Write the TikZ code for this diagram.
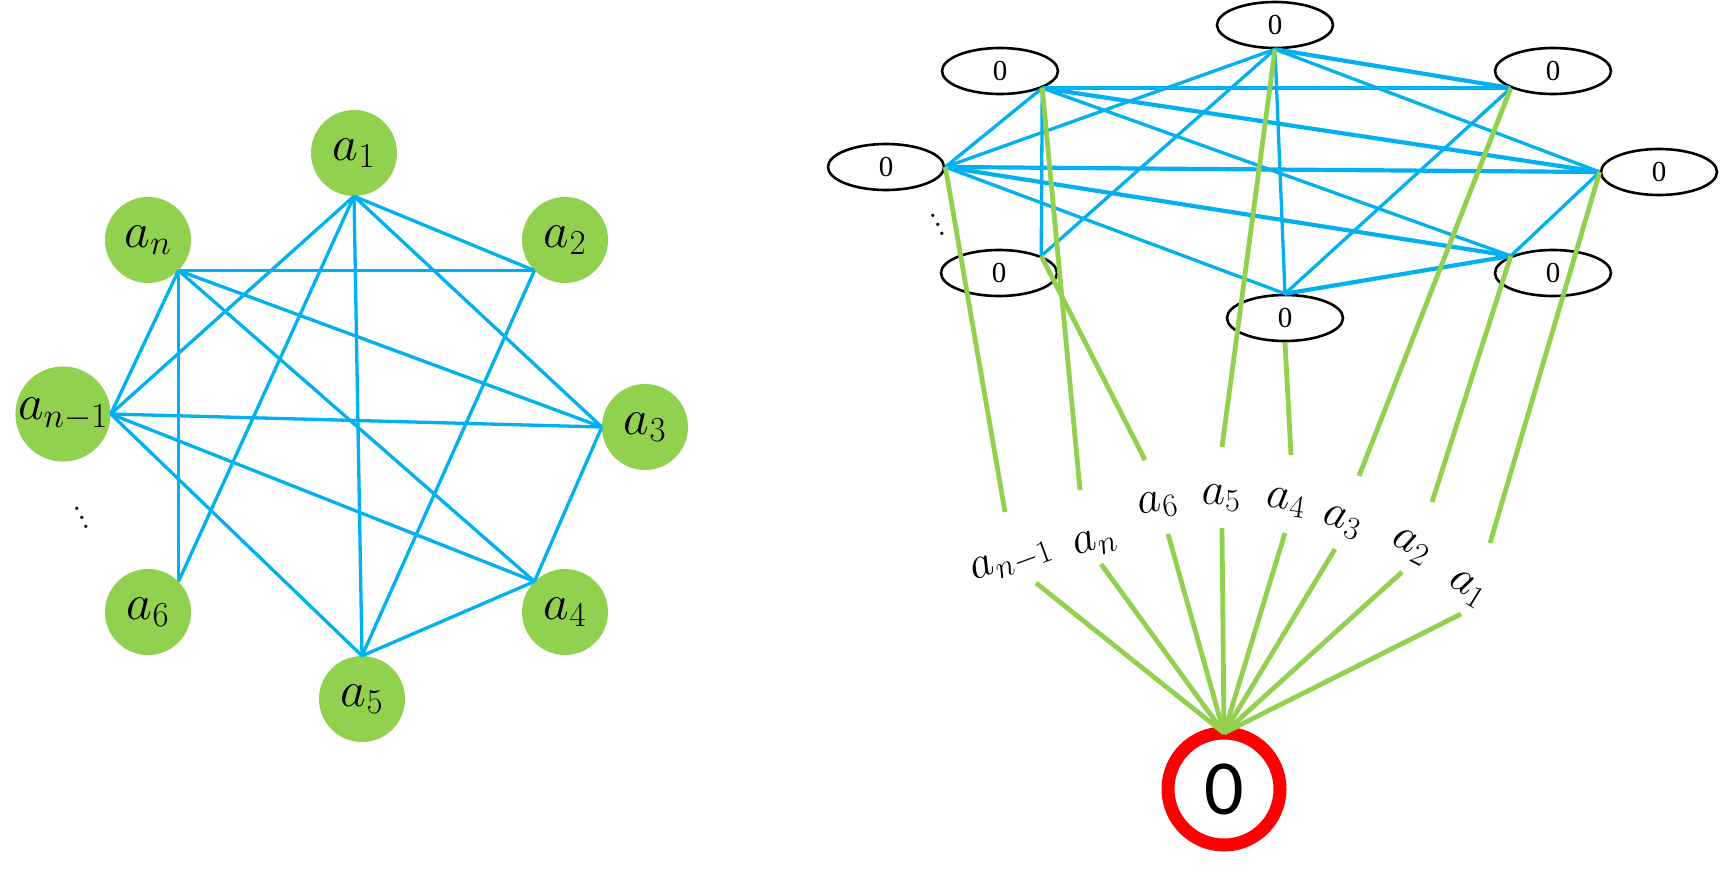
\RequirePackage{fix-cm}
\documentclass[tikz,border=0pt]{standalone}
\usepackage{amsmath,amssymb}
\usepackage{fontspec}
\usetikzlibrary{shapes.geometric}
\newfontfamily\zerofont{Liberation Serif}
\newfontfamily\rootfont{Carlito}
\definecolor{GraphGreen}{HTML}{92D050}
\definecolor{GraphBlue}{HTML}{00B0F0}
\definecolor{GraphRed}{HTML}{FF0000}
\tikzset{
  vertex/.style={circle, fill=GraphGreen, minimum size=86pt, inner sep=0pt,
                 font=\fontsize{50}{50}\selectfont},
  zero/.style={ellipse, draw=black, line width=2.6pt, minimum width=116pt,
               minimum height=46pt, inner sep=0pt, font=\zerofont\fontsize{29}{29}\selectfont},
  root/.style={circle, draw=GraphRed, line width=13pt, minimum size=112pt,
               inner sep=0pt, outer sep=0pt, font=\rootfont\fontsize{78}{78}\selectfont},
  lbl/.style={inner sep=0pt, font=\fontsize{46}{46}\selectfont},
  dotlbl/.style={inner sep=0pt, align=center, font=\fontsize{40}{10}\selectfont},
  blueline/.style={draw=GraphBlue, line width=3.3pt},
  bluethick/.style={draw=GraphBlue, line width=4.2pt},
  greenline/.style={draw=GraphGreen, line width=4.8pt},
}
\begin{document}
\begin{tikzpicture}[x=1pt,y=-1pt]
  \useasboundingbox (0,0) rectangle (1721,886);
  % left: complete graph on the a_i
  \node[vertex] (a1) at (354,153) {$a_1$};
  \node[vertex] (a2) at (565,240) {$a_2$};
  \node[vertex] (a3) at (645,427) {$a_3$};
  \node[vertex] (a4) at (565,612) {$a_4$};
  \node[vertex] (a5) at (362,699) {$a_5$};
  \node[vertex] (a6) at (148,612) {$a_6$};
  \node[vertex] (an) at (148,240) {$a_n$};
  \node[vertex] (an1) at (63,414) {$a_{n-1}$};
  \node[dotlbl,rotate=26] (ldots) at (82,518) {.\\.\\.};
  \draw[blueline] (a1.south) -- (a2.south west);
  \draw[blueline] (a1.south) -- (a3.west);
  \draw[blueline] (a1.south) -- (a5.north);
  \draw[blueline] (a1.south) -- (a6.north east);
  \draw[blueline] (a1.south) -- (an1.east);
  \draw[blueline] (an.south east) -- (a2.south west);
  \draw[blueline] (an.south east) -- (a3.west);
  \draw[blueline] (an.south east) -- (a4.north west);
  \draw[blueline] (an.south east) -- (a6.north east);
  \draw[blueline] (an.south east) -- (an1.east);
  \draw[blueline] (an1.east) -- (a3.west);
  \draw[blueline] (an1.east) -- (a4.north west);
  \draw[blueline] (an1.east) -- (a5.north);
  \draw[blueline] (a2.south west) -- (a5.north);
  \draw[blueline] (a3.west) -- (a4.north west);
  \draw[blueline] (a4.north west) -- (a5.north);
  % right: zero vertices
  \node[zero] (z1) at (1275,25) {0};
  \node[zero] (z2) at (1553,71) {0};
  \node[zero] (z3) at (1659,172) {0};
  \node[zero] (z4) at (1553,273) {0};
  \node[zero] (z5) at (1285,318) {0};
  \node[zero] (z6) at (999,273) {0};
  \node[zero] (zn) at (1000,71) {0};
  \node[zero] (zn1) at (886,167) {0};
  \node[dotlbl,rotate=26] (rdots) at (938,225) {.\\.\\.};
  \draw[blueline] (z1.south) -- (z3.west);
  \draw[blueline] (z1.south) -- (z5.north);
  \draw[blueline] (z1.south) -- (z6.22);
  \draw[blueline] (z1.south) -- (zn1.east);
  \draw[bluethick] (z1.south) -- (z2.202);
  \draw[bluethick] (zn.-22) -- (z2.202);
  \draw[bluethick] (zn.-22) -- (z3.west);
  \draw[blueline] (zn.-22) -- (z4.158);
  \draw[blueline] (zn.-22) -- (z6.22);
  \draw[blueline] (zn.-22) -- (zn1.east);
  \draw[bluethick] (zn1.east) -- (z3.west);
  \draw[bluethick] (zn1.east) -- (z4.158);
  \draw[blueline] (zn1.east) -- (z5.north);
  \draw[blueline] (z2.202) -- (z5.north);
  \draw[blueline] (z3.west) -- (z4.158);
  \draw[bluethick] (z4.158) -- (z5.north);
  % labels and the root
  \node[lbl,rotate=20] (la8) at (1012,562) {$a_{n-1}$};
  \node[lbl,rotate=18] (lan) at (1095,543) {$a_n$};
  \node[lbl,rotate=10] (la6) at (1158,505) {$a_6$};
  \node[lbl] (la5) at (1221,498) {$a_5$};
  \node[lbl,rotate=-8] (la4) at (1286,503) {$a_4$};
  \node[lbl,rotate=-18] (la3) at (1342,522) {$a_3$};
  \node[lbl,rotate=-28] (la2) at (1411,547) {$a_2$};
  \node[lbl,rotate=-32] (la1) at (1467,589) {$a_1$};
  \node[root] (zero) at (1224,789) {0};
  \coordinate (u8) at (1005,512);
  \coordinate (un) at (1080,490);
  \coordinate (u6) at (1145,460);
  \coordinate (u5) at (1222,447);
  \coordinate (u4) at (1291,455);
  \coordinate (u3) at (1359,476);
  \coordinate (u2) at (1432,502);
  \coordinate (u1) at (1490,543);
  \coordinate (d8) at (1036,583);
  \coordinate (dn) at (1101,564);
  \coordinate (d6) at (1168,534);
  \coordinate (d5) at (1222,528);
  \coordinate (d4) at (1285,533);
  \coordinate (d3) at (1335,549);
  \coordinate (d2) at (1402,572);
  \coordinate (d1) at (1461,614);
  \draw[greenline] (zn1.east) -- (u8);
  \draw[greenline] (zn.-22) -- (un);
  \draw[greenline] (z6.22) -- (u6);
  \draw[greenline] (z1.south) -- (u5);
  \draw[greenline] (z5.south) -- (u4);
  \draw[greenline] (z2.202) -- (u3);
  \draw[greenline] (z4.158) -- (u2);
  \draw[greenline] (z3.west) -- (u1);
  \draw[greenline] (d8) -- (zero.north);
  \draw[greenline] (dn) -- (zero.north);
  \draw[greenline] (d6) -- (zero.north);
  \draw[greenline] (d5) -- (zero.north);
  \draw[greenline] (d4) -- (zero.north);
  \draw[greenline] (d3) -- (zero.north);
  \draw[greenline] (d2) -- (zero.north);
  \draw[greenline] (d1) -- (zero.north);
\end{tikzpicture}
\end{document}
